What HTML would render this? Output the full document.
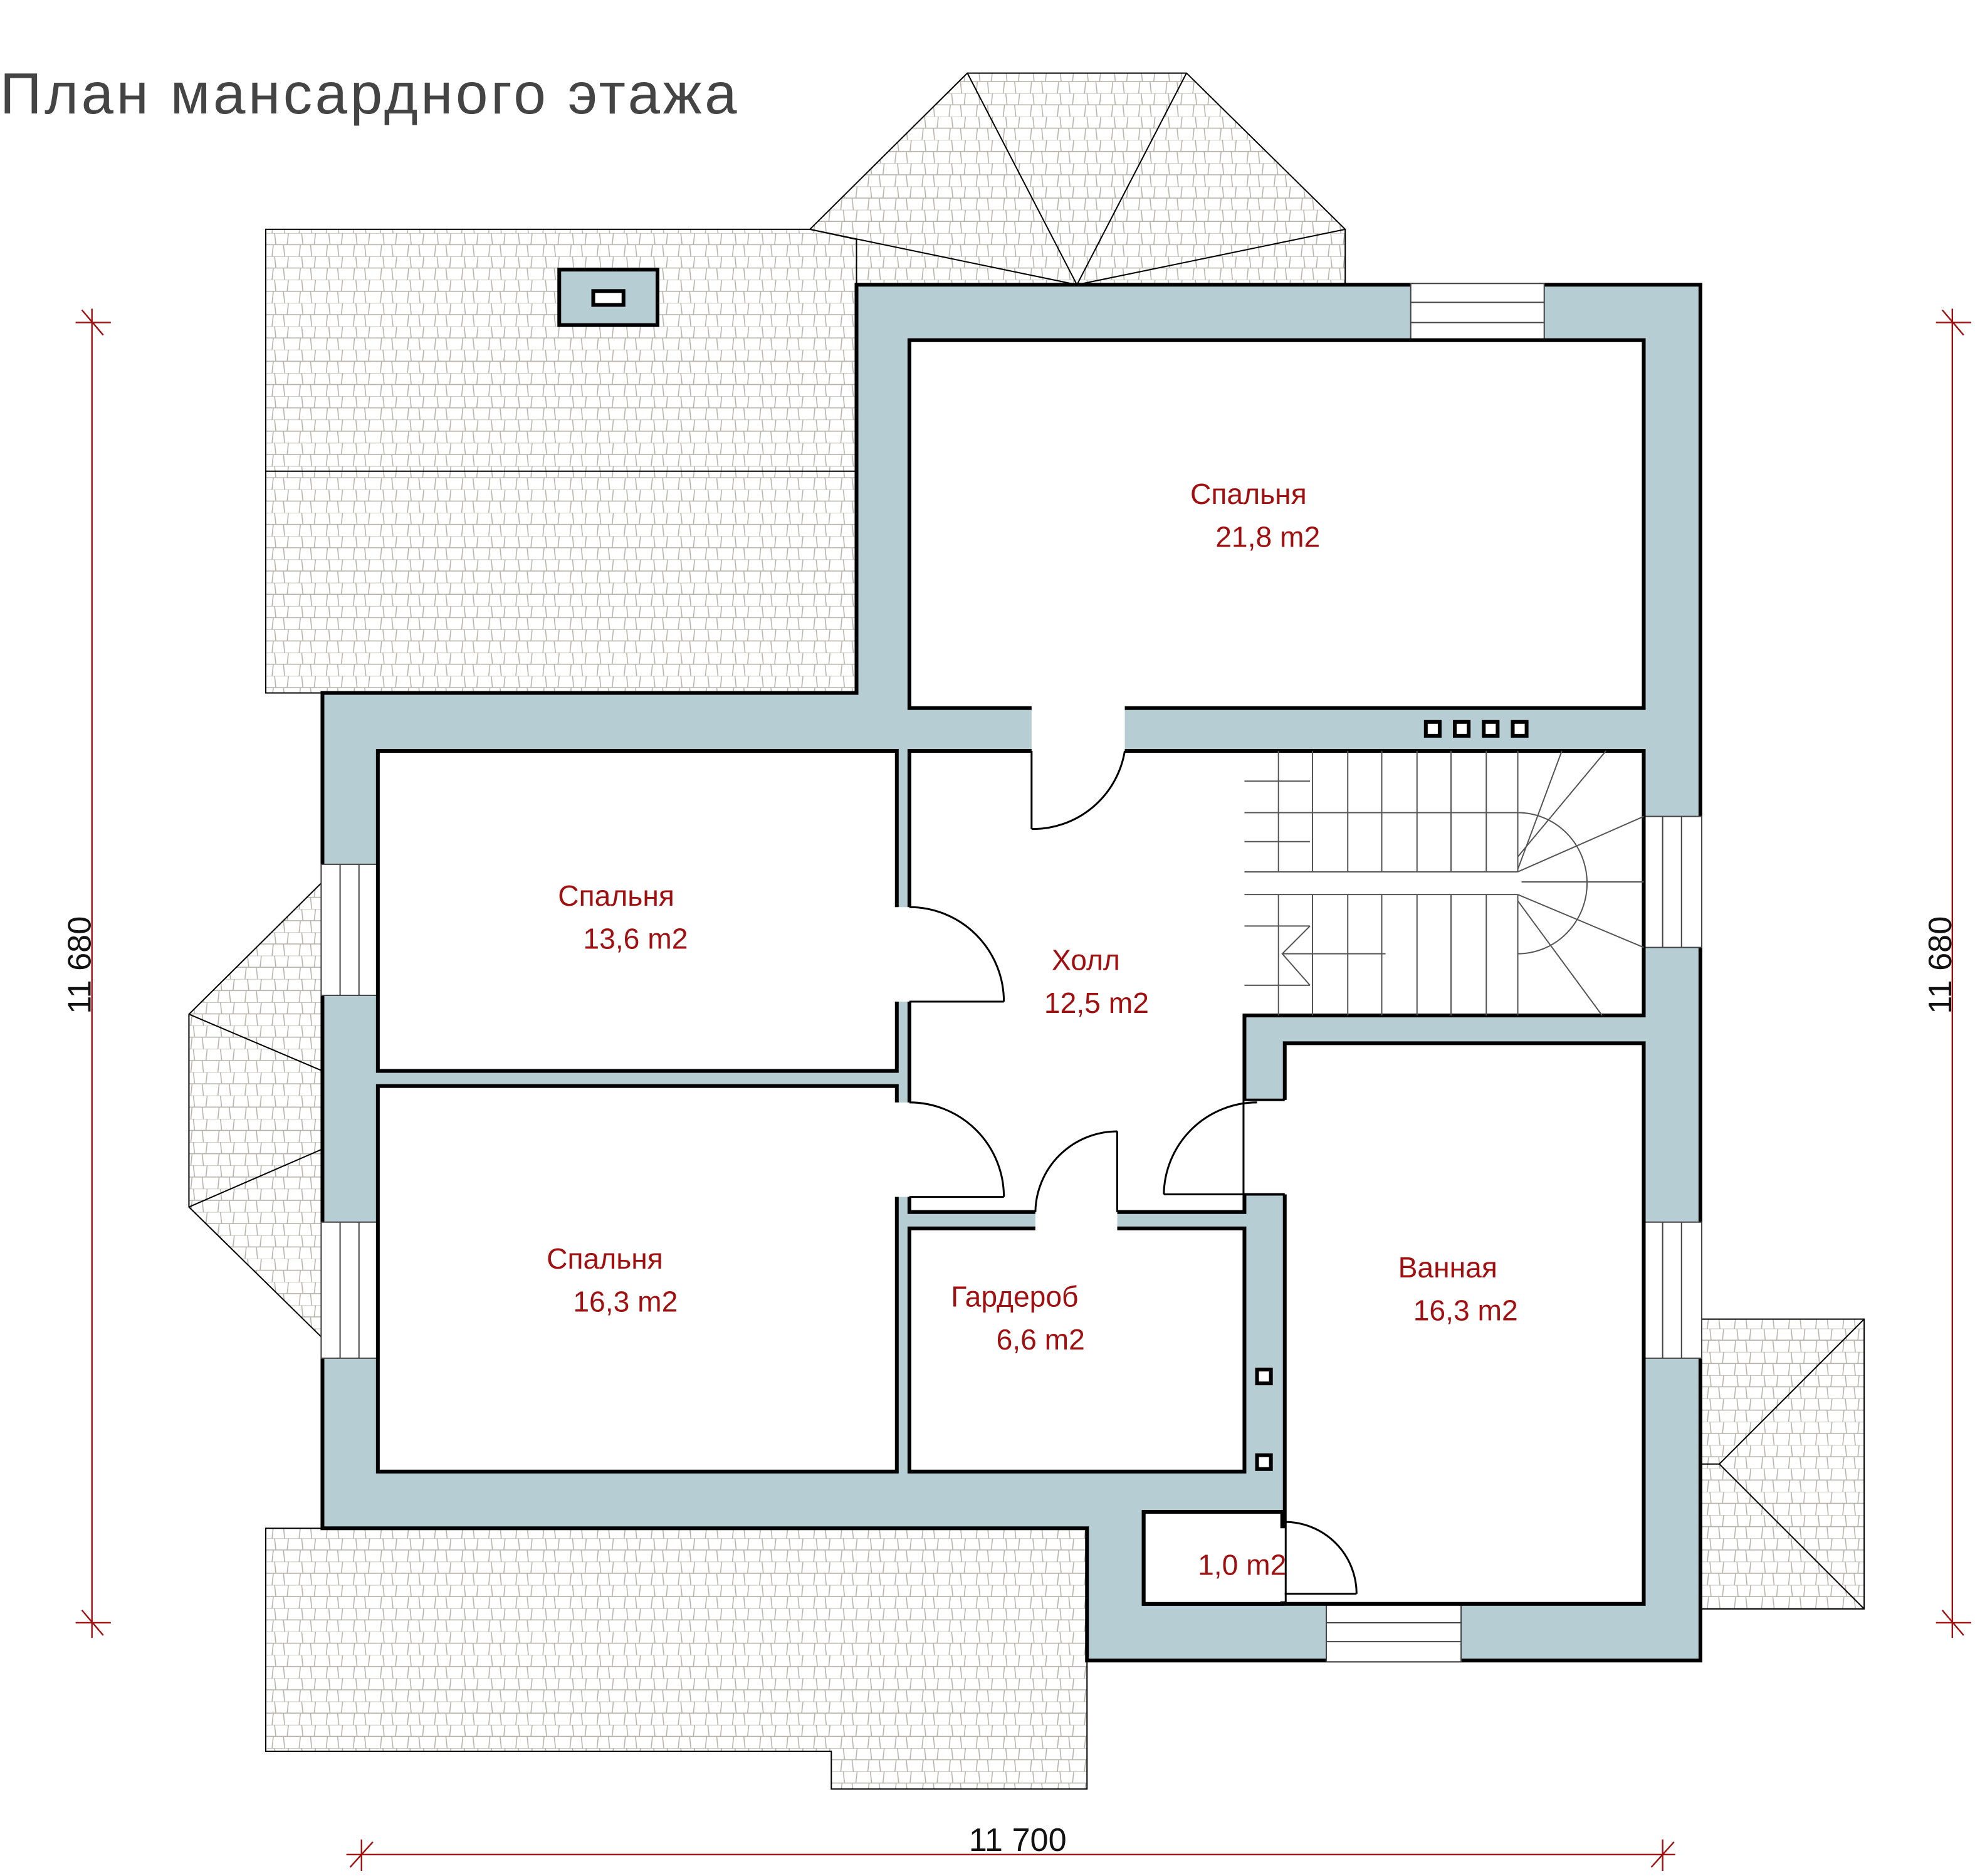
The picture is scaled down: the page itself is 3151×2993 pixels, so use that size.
<!DOCTYPE html>
<html><head><meta charset="utf-8"><style>html,body{margin:0;padding:0;background:#fff}svg{display:block}</style></head><body>
<svg xmlns="http://www.w3.org/2000/svg" width="3151" height="2993" viewBox="0 0 1568 1489" preserveAspectRatio="none">
<defs>
<pattern id="t" width="21.5" height="18.5" patternUnits="userSpaceOnUse">
<rect width="21.5" height="18.5" fill="#fff"/>
<path d="M0 9.2H21.5M3 0L4 9.2M14 0L13 9.2M2 9.2L1 18.5M10 9.2L11 18.5M0 0H21.5" stroke="#b8b4ac" stroke-width="0.8" fill="none"/>
</pattern>
</defs>
<g font-family="Liberation Sans, sans-serif">
<text x="0" y="90" font-size="46" fill="#444" textLength="585" lengthAdjust="spacing">План мансардного этажа</text>

<g stroke="#000" stroke-width="1" fill="url(#t)">
<rect x="211" y="182" width="469" height="368"/>
<line x1="211" y1="374" x2="680" y2="374"/>
<polygon points="643,182 768,58 942,58 1068,182 1068,226 680,226 680,190"/>
<line x1="855" y1="226" x2="768" y2="58"/><line x1="855" y1="226" x2="942" y2="58"/>
<line x1="855" y1="226" x2="643" y2="182"/><line x1="855" y1="226" x2="1068" y2="182"/>
<polygon points="256,700 150,805 150,958 256,1062"/>
<line x1="150" y1="805" x2="256" y2="850"/><line x1="150" y1="958" x2="256" y2="912"/>
<rect x="1350" y="1047" width="130" height="230"/>
<line x1="1365" y1="1162" x2="1480" y2="1047"/><line x1="1365" y1="1162" x2="1480" y2="1277"/><line x1="1350" y1="1162" x2="1365" y2="1162"/>
<polygon points="211,1213 863,1213 863,1420 660,1420 660,1390 211,1390"/>
</g>
<rect x="444" y="214" width="78" height="44" fill="#b7cdd4" stroke="#000" stroke-width="3"/>
<rect x="471" y="231" width="24" height="11" fill="#fff" stroke="#000" stroke-width="3"/>

<polygon points="680,226 1350,226 1350,1318 863,1318 863,1213 256,1213 256,550 680,550" fill="#b7cdd4" stroke="#000" stroke-width="3"/>
<g fill="#fff" stroke="#444" stroke-width="1">
<rect x="1120" y="225" width="106" height="46"/><line x1="1120" y1="240" x2="1226" y2="240"/><line x1="1120" y1="256" x2="1226" y2="256"/>
<rect x="1304" y="648" width="47" height="104"/><line x1="1320" y1="648" x2="1320" y2="752"/><line x1="1335" y1="648" x2="1335" y2="752"/>
<rect x="1304" y="970" width="47" height="108"/><line x1="1320" y1="970" x2="1320" y2="1078"/><line x1="1335" y1="970" x2="1335" y2="1078"/>
<rect x="1053" y="1272" width="107" height="47"/><line x1="1053" y1="1288" x2="1160" y2="1288"/><line x1="1053" y1="1303" x2="1160" y2="1303"/>
<rect x="255" y="686" width="46" height="104"/><line x1="270" y1="686" x2="270" y2="790"/><line x1="285" y1="686" x2="285" y2="790"/>
<rect x="255" y="970" width="46" height="108"/><line x1="270" y1="970" x2="270" y2="1078"/><line x1="285" y1="970" x2="285" y2="1078"/>
</g>
<g fill="#fff" stroke="#000" stroke-width="3">
<rect x="722" y="270" width="583" height="292"/>
<rect x="300" y="596" width="412" height="254"/>
<rect x="300" y="862" width="412" height="306"/>
<polygon points="722,596 1305,596 1305,806 988,806 988,962 722,962"/>
<rect x="722" y="975" width="266" height="193"/>
<polygon points="1020,828 1305,828 1305,1273 1018,1273 1018,1200 908,1200 908,1273 1020,1273"/>
<rect x="908" y="1200" width="110" height="73"/>
</g>
<g fill="#fff">
<rect x="819" y="560" width="74" height="38"/>
<rect x="710" y="720" width="14" height="75"/>
<rect x="710" y="875" width="14" height="75"/>
<rect x="822" y="960" width="65" height="17"/>
<rect x="988" y="873" width="34" height="75"/>
<rect x="1016" y="1213" width="4" height="58"/>
</g>
<g fill="none" stroke="#000" stroke-width="2">
<line x1="988" y1="806" x2="988" y2="873"/><line x1="1020" y1="828" x2="1020" y2="873"/><line x1="988" y1="873" x2="1020" y2="873"/>
<line x1="988" y1="948" x2="1020" y2="948"/><line x1="1020" y1="948" x2="1020" y2="1200"/>
<line x1="988" y1="806" x2="1305" y2="806"/>
</g>
<g fill="none" stroke="#000" stroke-width="1.5">
<line x1="819" y1="596" x2="819" y2="658"/><path d="M819 658A74 74 0 0 0 893 596"/>
<line x1="722" y1="795" x2="797" y2="795"/><path d="M722 720A75 75 0 0 1 797 795"/>
<line x1="722" y1="950" x2="797" y2="950"/><path d="M722 875A75 75 0 0 1 797 950"/>
<line x1="887" y1="962" x2="887" y2="898"/><path d="M887 898A65 65 0 0 0 822 962"/>
<line x1="924" y1="948" x2="998" y2="948"/><path d="M924 948A74 74 0 0 1 998 875"/>
<line x1="1020" y1="1265" x2="1077" y2="1265"/><path d="M1020 1208A57 57 0 0 1 1077 1265"/>
</g>
<g fill="none" stroke="#555" stroke-width="1">
<line x1="988" y1="692" x2="1205" y2="692"/><line x1="988" y1="710" x2="1205" y2="710"/>
<line x1="988" y1="620" x2="1040" y2="620"/><line x1="988" y1="645" x2="1205" y2="645"/><line x1="988" y1="668" x2="1040" y2="668"/>
<line x1="988" y1="735" x2="1040" y2="735"/><line x1="988" y1="782" x2="1040" y2="782"/>
<path d="M1015 596V692M1042 596V692M1070 596V692M1097 596V692M1125 596V692M1152 596V692M1180 596V692M1205 596V692"/>
<path d="M1015 710V806M1042 710V806M1070 710V806M1097 710V806M1125 710V806M1152 710V806M1180 710V806M1205 710V806"/>
<path d="M1205 645A55 56 0 0 1 1205 757"/><path d="M1205 690L1240 596M1205 692L1305 648M1208 700L1305 700M1205 710L1305 752M1205 715L1272 806M1205 680L1275 596"/>
<path d="M1040 735L1018 757L1040 782M1018 757H1100"/>
</g>
<g fill="#fff" stroke="#000" stroke-width="3">
<rect x="1132" y="573" width="11" height="11"/><rect x="1155" y="573" width="11" height="11"/><rect x="1178" y="573" width="11" height="11"/><rect x="1201" y="573" width="11" height="11"/>
<rect x="998" y="1087" width="11" height="11"/><rect x="998" y="1155" width="11" height="11"/>
</g>
<g fill="#a01010" font-size="23">
<text x="945" y="400">Спальня</text><text x="965" y="434">21,8 m2</text>
<text x="443" y="719">Спальня</text><text x="463" y="753">13,6 m2</text>
<text x="835" y="770">Холл</text><text x="829" y="804">12,5 m2</text>
<text x="434" y="1007">Спальня</text><text x="455" y="1041">16,3 m2</text>
<text x="755" y="1037">Гардероб</text><text x="791" y="1071">6,6 m2</text>
<text x="1110" y="1014">Ванная</text><text x="1122" y="1048">16,3 m2</text>
<text x="951" y="1250">1,0 m2</text>
</g>
<g stroke="#a01010" stroke-width="1.2">
<line x1="73" y1="245" x2="73" y2="1300"/><line x1="60" y1="256" x2="88" y2="256"/><line x1="60" y1="1288" x2="88" y2="1288"/>
<line x1="65" y1="246" x2="82" y2="266"/><line x1="65" y1="1278" x2="82" y2="1298"/>
<line x1="1550" y1="245" x2="1550" y2="1300"/><line x1="1537" y1="256" x2="1565" y2="256"/><line x1="1537" y1="1288" x2="1565" y2="1288"/>
<line x1="1542" y1="246" x2="1559" y2="266"/><line x1="1542" y1="1278" x2="1559" y2="1298"/>
<line x1="275" y1="1472" x2="1330" y2="1472"/><line x1="287" y1="1460" x2="287" y2="1485"/><line x1="1320" y1="1460" x2="1320" y2="1485"/>
<line x1="278" y1="1482" x2="296" y2="1462"/><line x1="1311" y1="1482" x2="1329" y2="1462"/>
</g>
<g fill="#111" font-size="26">
<text x="808" y="1469" text-anchor="middle">11 700</text>
<text transform="translate(72,766) rotate(-90)" text-anchor="middle">11 680</text>
<text transform="translate(1549,766) rotate(-90)" text-anchor="middle">11 680</text>
</g>
</g>
</svg>
</body></html>
